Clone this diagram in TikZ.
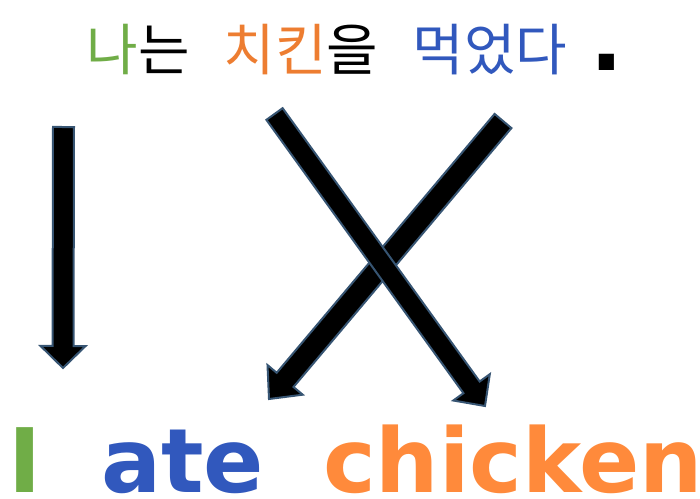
\documentclass[tikz,border=0pt]{standalone}
\usepackage{fontspec}
\usetikzlibrary{calc}
\newfontfamily\krfont{Noto Sans CJK KR}
\newfontfamily\dvfont{DejaVu Sans}
\definecolor{kgreen}{HTML}{70AD47}
\definecolor{korange}{HTML}{ED7D31}
\definecolor{kblue}{HTML}{3158BD}
\definecolor{eorange}{HTML}{FF8A3B}
\definecolor{eblue}{HTML}{3158BD}
\definecolor{arrowline}{HTML}{375573}
\tikzset{
  kr/.style={inner sep=0pt, anchor=base, font=\krfont\fontsize{56}{60}\selectfont},
  en/.style={inner sep=0pt, anchor=base west, text depth=0pt, font=\dvfont\bfseries\fontsize{89}{100}\selectfont},
  blockarrow/.style={fill=black, draw=arrowline, line width=2pt, line join=miter}
}
\newcommand{\blockarrowpath}[5]{% start, tip, shaft half width, head half width, head length
  \path ($(#2)!#5!(#1)$) coordinate (hb);
  \filldraw[blockarrow]
    ($(#1)!#3!90:(#2)$) -- ($(hb)!#3!90:(#2)$) -- ($(hb)!#4!90:(#2)$) -- (#2)
    -- ($(hb)!#4!-90:(#2)$) -- ($(hb)!#3!-90:(#2)$) -- ($(#1)!#3!-90:(#2)$) -- cycle;
}
\begin{document}
\begin{tikzpicture}[x=1pt,y=-1pt]
\useasboundingbox (0,0) rectangle (700,498);
% top Korean sentence
\node[kr] (w1) at (138,70) {\textcolor{kgreen}{나}는};
\node[kr] (w2) at (301,70) {\textcolor{korange}{치킨}을};
\node[kr, text=kblue] (w3) at (490,70) {먹었다};
\node[inner sep=0pt, anchor=base, font=\dvfont\bfseries\fontsize{86}{90}\selectfont] (dot) at (607,70) {.};
% bottom English sentence
\node[en, text=kgreen] (e1) at (8,492) {I};
\node[en, text=eblue] (e2) at (101,492) {ate};
\node[en, text=eorange] (e3) at (323,492) {chicken};
% arrow anchors
\coordinate (a1s) at (63.5,127);
\coordinate (a1t) at (63,368);
\coordinate (a2s) at (274.5,114);
\coordinate (a2t) at (485,406);
\coordinate (a3s) at (503,121);
\coordinate (a3t) at (269,399);
\blockarrowpath{a1s}{a1t}{10.5pt}{22.5pt}{22pt}
\blockarrowpath{a3s}{a3t}{11pt}{23pt}{25pt}
\blockarrowpath{a2s}{a2t}{10pt}{22.5pt}{23pt}
\end{tikzpicture}
\end{document}
